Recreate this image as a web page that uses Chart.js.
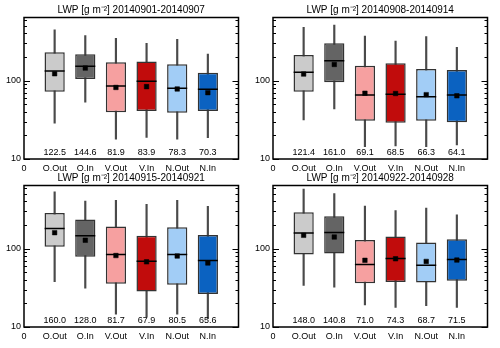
<!DOCTYPE html>
<html>
<head>
<meta charset="utf-8">
<script src="https://cdn.jsdelivr.net/npm/chart.js@4/dist/chart.umd.min.js"></script>
<style>
  body { margin: 0; background: #fff; }
  #wrap { position: relative; width: 500px; height: 348px; }
  .panel { position: absolute; }
</style>
</head>
<body>
<div id="wrap">
  <canvas class="panel" id="p1" width="250" height="174" style="left:0;top:0"></canvas>
  <canvas class="panel" id="p2" width="250" height="174" style="left:249px;top:0"></canvas>
  <canvas class="panel" id="p3" width="250" height="174" style="left:0;top:168px"></canvas>
  <canvas class="panel" id="p4" width="250" height="174" style="left:249px;top:168px"></canvas>
</div>
<script>
(function(){
  'use strict';

  // categorías y periodos
  const categories = ['O.Out', 'O.In', 'V.Out', 'V.In', 'N.Out', 'N.In'];
  const periods = ['20140901-20140907', '20140908-20140914', '20140915-20140921', '20140922-20140928'];
  const yTickLabels = [10, 100];

  // valores, un array por panel
  const whiskerLow = [
    [28.6, 53, 17.9, 18.9, 17.9, 18.7],
    [31.5, 43.5, 14.4, 14.7, 14.4, 15.1],
    [38, 31.3, 14.6, 13.5, 14.6, 12.8],
    [33.9, 32.3, 19.1, 17.8, 18.7, 17.8]
  ];
  const boxLow = [
    [72.4, 105, 39.5, 41, 39, 41],
    [72.4, 95.5, 30.8, 29.1, 30.8, 29.4],
    [106, 79, 35.6, 28.4, 34.6, 26.4],
    [84.5, 87, 36.3, 37.4, 37, 39]
  ];
  const medians = [
    [133, 153, 85.5, 98, 80, 77.6],
    [128, 180, 65.6, 67, 62.5, 65.6],
    [181, 146, 84.5, 69.3, 84.5, 70.6],
    [158, 161, 62.7, 75, 61.5, 72.8]
  ];
  const boxHigh = [
    [230, 217, 172, 175, 162, 126],
    [213, 300, 155, 167, 141, 137],
    [286, 235, 192, 146, 187, 149],
    [292, 259, 129, 143, 120, 132]
  ];
  const whiskerHigh = [
    [444, 376, 348, 300, 338, 219],
    [481, 514, 372, 321, 365, 267],
    [530, 405, 413, 367, 413, 346],
    [574, 505, 349, 307, 329, 270]
  ];
  const means = [
    [122.5, 144.6, 81.9, 83.9, 78.3, 70.3],
    [121.4, 161.0, 69.1, 68.5, 66.3, 64.1],
    [160.0, 128.0, 81.7, 67.9, 80.5, 65.6],
    [148.0, 140.8, 71.0, 74.3, 68.7, 71.5]
  ];

  const boxColors = ['#cbcbcb', '#646464', '#f6a0a0', '#c10c0c', '#a2cdf6', '#0b62c1'];
  const FONT = '"Liberation Sans", Arial, sans-serif';

  // marco, marcas hacia adentro, título y etiquetas de media
  const panelDecor = {
    id: 'panelDecor',
    afterDraw(chart, args, opts) {
      const ctx = chart.ctx;
      const a = chart.chartArea;
      const x = chart.scales.x, y = chart.scales.y;
      const k = opts.k;
      ctx.save();
      ctx.strokeStyle = '#000';
      ctx.lineWidth = 1.5;
      ctx.strokeRect(a.left, a.top, a.right - a.left, a.bottom - a.top);
      ctx.lineWidth = 1;
      y.ticks.forEach(t => {
        const m = t.value / Math.pow(10, Math.floor(Math.log10(t.value) + 1e-9));
        if (Math.abs(m - Math.round(m)) > 1e-6) return;
        const py = Math.round(y.getPixelForValue(t.value)) + 0.5;
        const len = yTickLabels.includes(t.value) ? 6 : 3;
        ctx.beginPath();
        ctx.moveTo(a.left, py); ctx.lineTo(a.left + len, py);
        ctx.moveTo(a.right, py); ctx.lineTo(a.right - len, py);
        ctx.stroke();
      });
      ctx.fillStyle = '#000';
      ctx.textAlign = 'center';
      ctx.textBaseline = 'bottom';
      ctx.font = '10px ' + FONT;
      ctx.fillText('LWP [g m\u207B\u00B2] ' + periods[k], (a.left + a.right) / 2, a.top - 2);
      ctx.font = '9px ' + FONT;
      means[k].forEach((v, i) => {
        ctx.fillText(v.toFixed(1), x.getPixelForValue(i + 1), y.getPixelForValue(10) - 2);
      });
      ctx.restore();
    }
  };

  function makePanel(id, k, padRight) {
    const el = document.getElementById(id);
    if (!el) return;
    const xs = categories.map((c, i) => i + 1);
    new Chart(el.getContext('2d'), {
      type: 'bar',
      data: {
        datasets: [
          {
            type: 'bar',
            data: xs.map((x, i) => ({ x: x, y: [whiskerLow[k][i], whiskerHigh[k][i]] })),
            backgroundColor: '#4a4a4a',
            barThickness: 1.5,
            grouped: false,
            order: 3
          },
          {
            type: 'bar',
            data: xs.map((x, i) => ({ x: x, y: [boxLow[k][i], boxHigh[k][i]] })),
            backgroundColor: boxColors,
            borderColor: '#333333',
            borderWidth: 1.5,
            borderSkipped: false,
            grouped: false,
            barPercentage: 0.66,
            categoryPercentage: 1,
            order: 2
          },
          {
            type: 'scatter',
            data: xs.map((x, i) => ({ x: x, y: medians[k][i] })),
            pointStyle: 'line',
            pointRadius: 10,
            borderColor: '#000',
            borderWidth: 1.5,
            order: 1
          },
          {
            type: 'scatter',
            data: xs.map((x, i) => ({ x: x, y: means[k][i] })),
            pointStyle: 'rect',
            pointRadius: 3.2,
            backgroundColor: '#000',
            borderColor: '#000',
            borderWidth: 0.5,
            order: 0
          }
        ]
      },
      options: {
        responsive: false,
        animation: false,
        events: [],
        layout: { padding: { top: 17.5, right: padRight, left: 0, bottom: 0 } },
        plugins: {
          legend: { display: false },
          tooltip: { enabled: false },
          panelDecor: { k: k }
        },
        scales: {
          x: {
            type: 'linear', min: 0, max: 7, offset: false,
            grid: { display: false, drawTicks: false },
            border: { display: false },
            ticks: {
              stepSize: 1, autoSkip: false, maxRotation: 0, padding: 4,
              color: '#000', font: { family: FONT, size: 9 },
              callback: v => v === 0 ? '0' : (categories[v - 1] || '')
            },
            afterFit: s => { s.height = 15; }
          },
          y: {
            type: 'logarithmic', min: 10, max: 640,
            grid: { display: false, drawTicks: false },
            border: { display: false },
            ticks: {
              autoSkip: false, padding: 3,
              color: '#000', font: { family: FONT, size: 9 },
              callback: v => yTickLabels.includes(v) ? String(v) : ''
            },
            afterFit: s => { s.width = 24; }
          }
        }
      },
      plugins: [panelDecor]
    });
  }

  function init() {
    if (typeof Chart === 'undefined') { console.warn('Chart.js no está cargado'); return; }
    makePanel('p1', 0, 7);
    makePanel('p2', 1, 10);
    makePanel('p3', 2, 7);
    makePanel('p4', 3, 10);
  }

  if (document.readyState === 'loading') {
    document.addEventListener('DOMContentLoaded', init);
  } else {
    init();
  }
})();
</script>
</body>
</html>
